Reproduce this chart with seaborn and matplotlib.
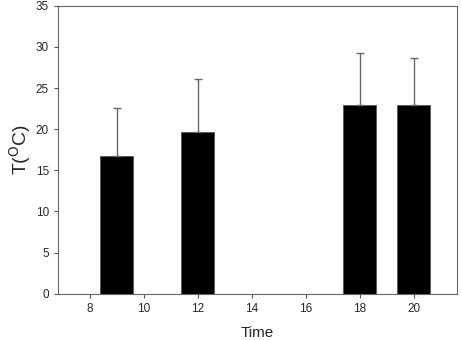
import matplotlib
matplotlib.use("Agg")
import matplotlib.pyplot as plt
import seaborn as sns
import pandas as pd

# Datos
time = [9, 12, 18, 20]
temp = [16.75, 19.65, 22.9, 22.95]
temp_err = [5.85, 6.45, 6.35, 5.7]
x_ticks = [8, 10, 12, 14, 16, 18, 20]
y_ticks = [0, 5, 10, 15, 20, 25, 30, 35]

sns.set_style("white")
plt.rcParams["font.family"] = ["Liberation Sans", "DejaVu Sans"]

df = pd.DataFrame({"Time": time, "T": temp})

fig = plt.figure(figsize=(4.61, 3.40), dpi=100)
ax = fig.add_axes([0.126, 0.136, 0.865, 0.847])

sns.barplot(data=df, x="Time", y="T", native_scale=True, width=0.6,
            color="black", saturation=1, errorbar=None, ax=ax,
            edgecolor="#555555", linewidth=0.6)
ax.errorbar(time, temp, yerr=[[0] * len(temp_err), temp_err], fmt="none",
            ecolor="#666666", elinewidth=1, capsize=3, capthick=1)

ax.set_xlim(6.83, 21.6)
ax.set_ylim(0, 35)
ax.set_xticks(x_ticks)
ax.set_yticks(y_ticks)
ax.tick_params(axis="both", direction="out", length=3, width=0.8,
               color="#555555", labelsize=8.5, bottom=True, left=True)
for s in ax.spines.values():
    s.set_color("#666666")
    s.set_linewidth(0.8)

ax.set_xlabel("Time", fontsize=11, labelpad=8)
ax.set_ylabel(r"T($^{\mathrm{O}}$C)", fontsize=14, labelpad=2)

fig.savefig("out.png", dpi=100)
